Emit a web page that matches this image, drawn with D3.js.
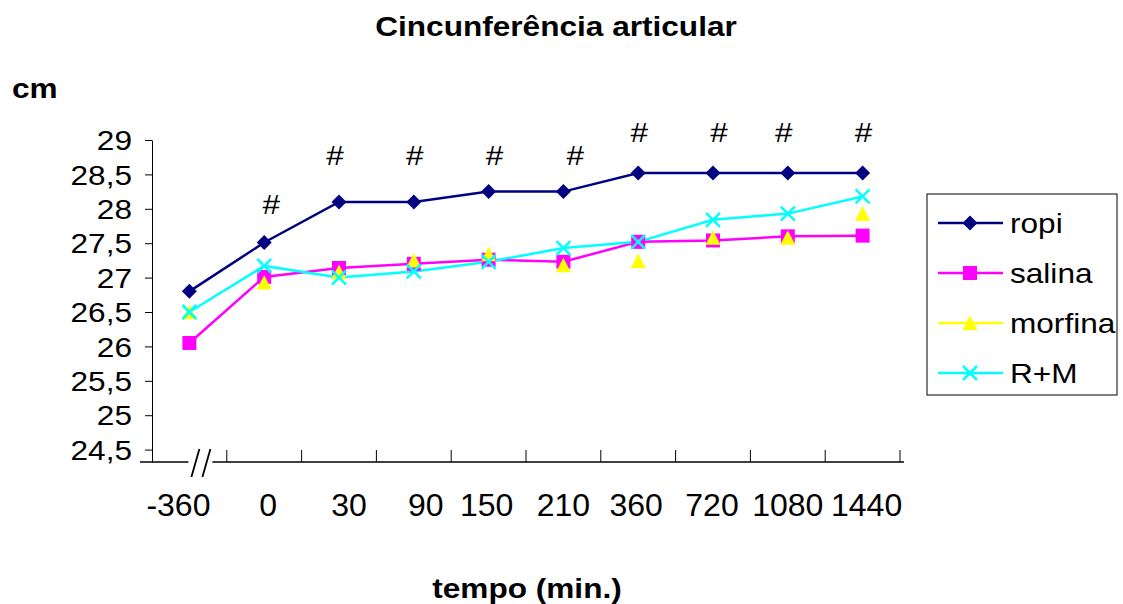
<!DOCTYPE html>
<html>
<head>
<meta charset="utf-8">
<script src="https://cdn.jsdelivr.net/npm/d3@7"></script>
<style>
  body { margin: 0; background: #fff; }
  svg { display: block; font-family: "Liberation Sans", Arial, sans-serif; }
</style>
</head>
<body>
<svg width="1123" height="604"></svg>
<script>
// data
const categories = ['-360', '0', '30', '90', '150', '210', '360', '720', '1080', '1440'];
const ropi    = [26.80, 27.51, 28.10, 28.10, 28.25, 28.25, 28.52, 28.52, 28.52, 28.52];
const salina  = [26.05, 27.01, 27.14, 27.20, 27.26, 27.23, 27.52, 27.54, 27.60, 27.61];
const morfina = [26.50, 26.93, 27.08, 27.25, 27.34, 27.18, 27.24, 27.58, 27.58, 27.93];
const rm      = [26.50, 27.17, 27.00, 27.09, 27.23, 27.43, 27.52, 27.84, 27.93, 28.18];
const yTicks = [24.5, 25, 25.5, 26, 26.5, 27, 27.5, 28, 28.5, 29];
const hashCats   = ['0', '30', '90', '150', '210', '360', '720', '1080', '1440'];
const hashLevels = [28.07, 28.78, 28.78, 28.78, 28.78, 29.11, 29.11, 29.11, 29.11];

// small hand-placed nudges, as in the original layout (px)
const labelNudge = [-11, 4, 10, 12, -2, 0, -2, -1, 0, 4];
const hashNudge  = [7, -4, 1, 6, 12, 1, 6, -4, 1];

const series = [
  { name: 'ropi',    values: ropi,    color: '#000080', shape: 'diamond',  line: true },
  { name: 'salina',  values: salina,  color: '#ff00ff', shape: 'square',   line: true },
  { name: 'morfina', values: morfina, color: '#ffff00', shape: 'triangle', line: false },
  { name: 'R+M',     values: rm,      color: '#00ffff', shape: 'cross',    line: true }
];

const svg = d3.select('svg');
const stretch = 1.17; // text is drawn a bit wider than the font
const fs = 27;

const x = d3.scaleBand().domain(categories).range([152, 900]);
const y = d3.scaleLinear().domain([24.32, 29]).range([462, 140]);
const cx = c => x(c) + x.bandwidth() / 2;

const shapes = {
  diamond:  r => `M0,${-r}L${r},0L0,${r}L${-r},0Z`,
  square:   r => `M${-r},${-r}H${r}V${r}H${-r}Z`,
  triangle: r => `M0,${-r}L${r},${r * 0.95}L${-r},${r * 0.95}Z`,
  cross:    r => `M${-r},${-r}L${r},${r}M${r},${-r}L${-r},${r}`
};
const markerR = { diamond: 7.5, square: 7, triangle: 7.5, cross: 7 };

function addText(g, str, px, py, opts = {}) {
  return g.append('text')
    .attr('transform', `translate(${px},${py}) scale(${opts.stretch || stretch},1)`)
    .attr('text-anchor', opts.anchor || 'middle')
    .attr('font-size', opts.size || fs)
    .attr('font-weight', opts.weight || 'normal')
    .attr('fill', '#000')
    .text(str);
}

// titles
addText(svg, 'Cincunferência articular', 556, 36, { weight: 'bold' });
addText(svg, 'cm', 12, 98, { anchor: 'start', weight: 'bold' });
addText(svg, 'tempo (min.)', 527, 598, { weight: 'bold' });

// y axis
const yAxis = svg.append('g')
  .attr('transform', 'translate(152,0)')
  .call(d3.axisLeft(y).tickValues(yTicks).tickSize(7).tickSizeOuter(0)
    .tickFormat(d => String(d).replace('.', ',')));
yAxis.select('.domain').attr('stroke', '#000').attr('stroke-width', 1);
yAxis.selectAll('.tick line').attr('stroke', '#000');
yAxis.selectAll('.tick text')
  .attr('x', null).attr('dy', null)
  .attr('transform', `translate(-20,${fs * 0.36}) scale(${stretch},1)`)
  .attr('font-size', fs)
  .attr('font-family', null)
  .attr('fill', '#000');

// x axis with a break mark near the start
const axisY = y(24.32);
const breakX = cx(categories[0]) + 12;
const xAxis = svg.append('g');
xAxis.append('line')
  .attr('x1', x.range()[0] - 12).attr('x2', breakX - 13)
  .attr('y1', axisY).attr('y2', axisY)
  .attr('stroke', '#000').attr('stroke-width', 1.5);
xAxis.append('line')
  .attr('x1', breakX + 11).attr('x2', x.range()[1] + 4)
  .attr('y1', axisY).attr('y2', axisY)
  .attr('stroke', '#000').attr('stroke-width', 1.5);
[-6, 5].forEach(off => {
  xAxis.append('line')
    .attr('x1', breakX + off - 4).attr('y1', axisY + 15)
    .attr('x2', breakX + off + 4).attr('y2', axisY - 13)
    .attr('stroke', '#000').attr('stroke-width', 1.8);
});
xAxis.selectAll('line.tick')
  .data(categories.slice(1).concat(['end']))
  .enter().append('line')
    .attr('class', 'tick')
    .attr('x1', (d, i) => x(categories[0]) + x.step() * (i + 1))
    .attr('x2', (d, i) => x(categories[0]) + x.step() * (i + 1))
    .attr('y1', axisY).attr('y2', axisY - 12)
    .attr('stroke', '#000').attr('stroke-width', 1);
categories.forEach((c, i) =>
  addText(xAxis, c, cx(c) + labelNudge[i], 516, { size: 32, stretch: 1 }));

// series lines
const line = d3.line()
  .x((d, i) => cx(categories[i]))
  .y(d => y(d));

const plot = svg.append('g');
series.forEach(s => {
  if (s.line) {
    plot.append('path')
      .datum(s.values)
      .attr('d', line)
      .attr('fill', 'none')
      .attr('stroke', s.color)
      .attr('stroke-width', 2.5);
  }
});

// markers
series.forEach(s => {
  plot.append('g')
    .selectAll('path')
    .data(s.values)
    .enter().append('path')
      .attr('transform', (d, i) => `translate(${cx(categories[i])},${y(d)})`)
      .attr('d', shapes[s.shape](markerR[s.shape]))
      .attr('fill', s.shape === 'cross' ? 'none' : s.color)
      .attr('stroke', s.shape === 'cross' ? s.color : 'none')
      .attr('stroke-width', 2.5);
});

// significance marks
hashCats.forEach((c, i) =>
  addText(svg, '#', cx(c) + hashNudge[i], y(hashLevels[i]) + fs * 0.36));

// legend
const legend = svg.append('g').attr('transform', 'translate(927,194)');
legend.append('rect')
  .attr('width', 190).attr('height', 201)
  .attr('fill', '#fff').attr('stroke', '#000').attr('stroke-width', 1);
series.forEach((s, i) => {
  const ly = 29 + i * 50;
  const item = legend.append('g').attr('transform', `translate(0,${ly})`);
  item.append('line')
    .attr('x1', 11).attr('x2', 76)
    .attr('stroke', s.color).attr('stroke-width', 2.5);
  item.append('path')
    .attr('transform', 'translate(43,0)')
    .attr('d', shapes[s.shape](markerR[s.shape]))
    .attr('fill', s.shape === 'cross' ? 'none' : s.color)
    .attr('stroke', s.shape === 'cross' ? s.color : 'none')
    .attr('stroke-width', 2.5);
  addText(item, s.name, 83, fs * 0.36, { anchor: 'start' });
});
</script>
</body>
</html>
